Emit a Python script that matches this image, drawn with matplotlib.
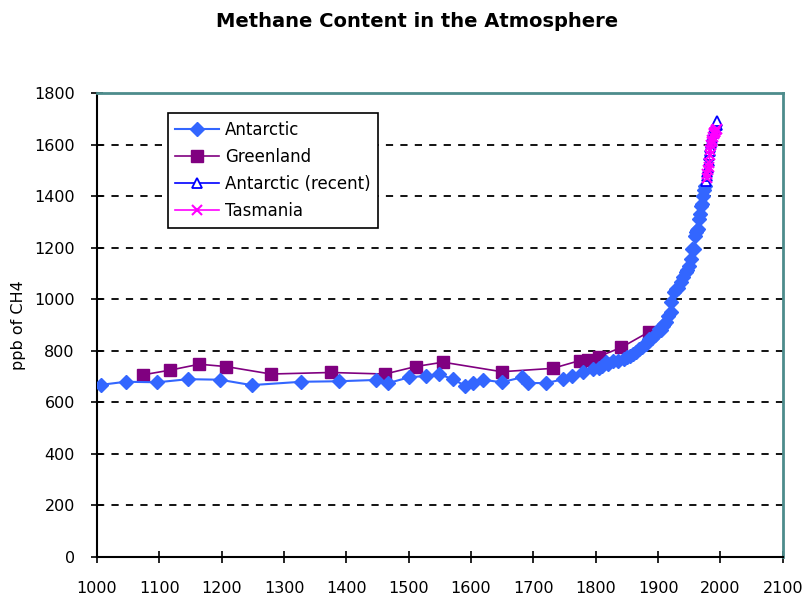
import numpy as np
import matplotlib
matplotlib.use('Agg')
from matplotlib import pyplot as plt

plt.rcParams['font.family'] = ['DejaVu Sans']

# Antarctic ice core record
ant_year = [1006, 1046, 1097, 1146, 1197, 1248, 1328, 1388, 1447, 1466, 1500, 1528, 1548,
            1571, 1590, 1603, 1619, 1649, 1681, 1692, 1721, 1748, 1762, 1780, 1796, 1805,
            1810, 1817, 1820, 1828, 1835, 1846, 1850, 1855, 1859, 1865, 1870, 1875, 1881,
            1886, 1890, 1895, 1902, 1905, 1908, 1910, 1913, 1916, 1920, 1921, 1926, 1929,
            1932, 1937, 1940, 1945, 1947, 1950, 1953, 1955, 1958, 1960, 1961, 1962, 1964,
            1966, 1967, 1969, 1970, 1972, 1974, 1976]
ant_ch4 = [668, 680, 678, 690, 688, 667, 680, 682, 687, 674, 697, 703, 710,
           690, 665, 675, 688, 678, 697, 675, 675, 690, 703, 719, 729, 735,
           740, 757, 748, 761, 760, 770, 775, 780, 787, 795, 807, 815, 826,
           846, 850, 862, 884, 880, 895, 905, 912, 935, 950, 988, 1027, 1039,
           1045, 1066, 1085, 1104, 1115, 1129, 1155, 1194, 1194, 1245, 1260, 1270, 1271,
           1310, 1330, 1361, 1370, 1400, 1426, 1440]

# Greenland ice core record
grn_year = [1074, 1117, 1164, 1207, 1279, 1375, 1462, 1511, 1555, 1649, 1731, 1774,
            1788, 1805, 1841, 1885]
grn_ch4 = [707, 725, 748, 739, 710, 716, 710, 739, 756, 719, 732, 762,
           765, 778, 813, 873]

# Antarctic recent (firn / air)
rec_year = [1977, 1978, 1979, 1980, 1981, 1982, 1983, 1984, 1985, 1986, 1987, 1988,
            1989, 1990, 1991, 1992, 1993, 1994, 1995]
rec_ch4 = [1460, 1480, 1495, 1510, 1535, 1560, 1575, 1590, 1605, 1620, 1630, 1645,
           1650, 1660, 1670, 1665, 1680, 1675, 1690]

# Cape Grim, Tasmania
tas_year = [1978, 1979, 1980, 1981, 1982, 1983, 1984, 1985, 1986, 1987, 1988, 1989,
            1990, 1991, 1992, 1993, 1994]
tas_ch4 = [1470, 1485, 1500, 1515, 1530, 1560, 1580, 1600, 1610, 1620, 1630, 1640,
           1645, 1650, 1650, 1655, 1660]

fig = plt.figure(figsize=(8.03, 5.97), dpi=100)
ax = fig.add_axes([0.1208, 0.067, 0.854, 0.777])

ax.plot(ant_year, ant_ch4, color='#3366FF', marker='D', markersize=7, lw=1.5,
        label='Antarctic', zorder=3)
ax.plot(grn_year, grn_ch4, color='#800080', marker='s', markersize=8, lw=1.2,
        label='Greenland', zorder=2)
ax.plot(rec_year, rec_ch4, color='#0000FF', marker='^', markersize=6.5, lw=1.2,
        markerfacecolor='white', markeredgewidth=1.3, label='Antarctic (recent)', zorder=4)
ax.plot(tas_year, tas_ch4, color='#FF00FF', marker='x', markersize=6.5, lw=1.2,
        markeredgewidth=1.5, label='Tasmania', zorder=5)

ax.set_xlim(1000, 2100)
ax.set_ylim(0, 1800)
ax.set_xticks(np.arange(1000, 2101, 100))
ax.set_yticks(np.arange(0, 1801, 200))
ax.tick_params(direction='inout', length=8, width=1.2, labelsize=11.5)
ax.tick_params(axis='x', pad=13)
ax.tick_params(axis='y', pad=12)

for y in range(200, 1800, 200):
    ax.axhline(y, color='black', lw=1.3, ls=(0, (4, 4)), zorder=1)

ax.spines['left'].set_linewidth(1.5)
ax.spines['bottom'].set_linewidth(1.5)
ax.spines['top'].set_color('#4d8c8c')
ax.spines['right'].set_color('#4d8c8c')
ax.spines['top'].set_linewidth(2)
ax.spines['right'].set_linewidth(2)

ax.set_ylabel('ppb of CH4', fontsize=11.5, labelpad=6)
fig.text(0.52, 0.98, 'Methane Content in the Atmosphere', fontsize=14, fontweight='bold',
         ha='center', va='top')

leg = ax.legend(loc='upper left', bbox_to_anchor=(0.1035, 0.957), borderaxespad=0,
                fontsize=12, fancybox=False, edgecolor='black', framealpha=1,
                handlelength=2.6, handletextpad=0.35, labelspacing=0.55, borderpad=0.45)
leg.get_frame().set_linewidth(1.2)

fig.savefig('out.png', dpi=100)
